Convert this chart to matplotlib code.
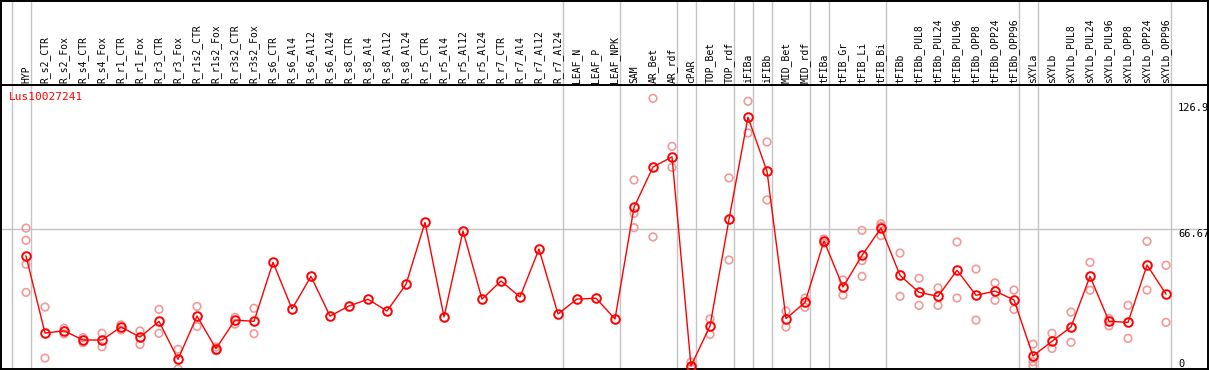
import matplotlib
matplotlib.use("Agg")
import matplotlib.pyplot as plt
from matplotlib.transforms import blended_transform_factory

categories = ["HYP", "R_s2_CTR", "R_s2_Fox", "R_s4_CTR", "R_s4_Fox", "R_r1_CTR", "R_r1_Fox",
              "R_r3_CTR", "R_r3_Fox", "R_r1s2_CTR", "R_r1s2_Fox", "R_r3s2_CTR", "R_r3s2_Fox",
              "R_s6_CTR", "R_s6_Al4", "R_s6_Al12", "R_s6_Al24", "R_s8_CTR", "R_s8_Al4",
              "R_s8_Al12", "R_s8_Al24", "R_r5_CTR", "R_r5_Al4", "R_r5_Al12", "R_r5_Al24",
              "R_r7_CTR", "R_r7_Al4", "R_r7_Al12", "R_r7_Al24", "LEAF_N", "LEAF_P", "LEAF_NPK",
              "SAM", "AR_Bet", "AR_rdf", "cPAR", "TOP_Bet", "TOP_rdf", "iFIBa", "iFIBb",
              "MID_Bet", "MID_rdf", "tFIBa", "tFIB_Gr", "tFIB_Li", "tFIB_Bi", "tFIBb",
              "tFIBb_PUL8", "tFIBb_PUL24", "tFIBb_PUL96", "tFIBb_OPP8", "tFIBb_OPP24",
              "tFIBb_OPP96", "sXYLa", "sXYLb", "sXYLb_PUL8", "sXYLb_PUL24", "sXYLb_PUL96",
              "sXYLb_OPP8", "sXYLb_OPP24", "sXYLb_OPP96"]

means = [53.8, 17.1, 18.2, 13.8, 13.8, 20.0, 15.2, 22.7, 4.6, 25.2, 9.7, 23.3, 22.7,
         50.8, 28.6, 44.1, 25.2, 30.0, 33.2, 27.6, 40.3, 69.8, 24.8, 65.7, 33.3,
         41.9, 34.3, 57.1, 26.2, 33.3, 33.7, 23.8,
         77.0, 96.2, 101.0, 1.4, 20.5, 71.3, 119.9, 94.1, 24.0, 31.7, 61.0, 39.0,
         54.1, 67.1, 44.6, 36.5, 34.6, 47.0, 35.1, 37.1, 32.9,
         6.2, 13.2, 20.0, 44.1, 22.7, 22.2, 49.5, 35.7]

replicates = [[67.1, 61.3, 49.9, 36.5], [29.5, 5.2], [19.4, 16.7], [14.9, 12.5], [17.0, 10.6],
              [21.0, 18.6], [18.1, 11.7], [28.4, 17.0], [9.4, 0.0], [29.8, 20.3], [10.5, 8.7],
              [24.6, 21.4], [28.9, 16.8],
              [], [], [], [], [], [], [], [], [], [], [], [], [], [], [], [], [], [], [],
              [90.0, 74.1, 67.3], [128.9, 62.9], [106.0, 96.0], [3.3, 0.3], [23.8, 16.5],
              [91.0, 51.9], [127.5, 112.4], [108.1, 80.5], [27.6, 20.0], [33.8, 29.4],
              [61.9, 60.0], [42.4, 35.2], [66.0, 51.6, 44.1], [69.2, 68.0, 63.5], [55.2, 34.6],
              [43.2, 30.3], [38.6, 30.3], [60.5, 33.8], [47.6, 23.3], [41.0, 32.7], [37.6, 28.4],
              [11.8, 3.5, 1.6], [17.0, 9.8], [27.1, 12.7], [50.8, 37.5], [24.1, 20.5],
              [30.3, 14.6], [60.8, 37.6], [49.4, 22.2]]

# group separators: a line follows each of these category indices (-1 = before first)
group_ends = [-1, 0, 28, 31, 34, 35, 37, 38, 39, 41, 42, 45, 52, 53, 60]

axis_labels = [(126.9, "126.9"), (66.67, "66.67"), (0, "0")]
gene = "Lus10027241"

W, H = 1209, 370
fig = plt.figure(figsize=(W / 100, H / 100), dpi=100)
ax = fig.add_axes([1 / W, 1 / H, 1207 / W, 284 / H])
hx = fig.add_axes([1 / W, 285 / H, 1207 / W, 84.5 / H], sharex=ax)

xlo, xhi = (1 - 26) / 19, (1208 - 26) / 19
ax.set_xlim(xlo, xhi)
ax.set_ylim(0, 284 / 2.1)
hx.set_ylim(0, 1)

mono = "DejaVu Sans Mono"
grid_c = "#c4c4c4"
for a in (ax, hx):
    a.set_xticks([])
    a.set_yticks([])
    for s in a.spines.values():
        s.set_color("black")
        s.set_linewidth(1.4)
    for g in group_ends:
        a.axvline(g + 0.25, color=grid_c, lw=1.0, zorder=0)

ax.axhline(66.67, color=grid_c, lw=1.0, zorder=0)

xs = list(range(len(categories)))
px, py = [], []
for i, reps in enumerate(replicates):
    for v in reps:
        px.append(i)
        py.append(v)
ax.scatter(px, py, s=30, facecolors="none", edgecolors="#f09a9a", linewidths=1.2, zorder=2)
ax.plot(xs, means, color="red", lw=1.0, marker="o", ms=6.2, mfc="none", mec="red",
        mew=1.4, zorder=3, clip_on=False)

for i, c in enumerate(categories):
    hx.text(i, 2 / 84.5, c, rotation=90, ha="center", va="bottom", fontsize=7,
            family=mono, transform=blended_transform_factory(hx.transData, hx.transAxes))

tr = blended_transform_factory(ax.transAxes, ax.transData)
for v, lab in axis_labels:
    ax.text((1178 - 1) / 1207, v, lab, ha="left", va="bottom" if v == 0 else "top",
            fontsize=7.5, family=mono, transform=tr)

ax.text((9 - 1) / 1207, (369 - 97) / 284, gene, color="red", fontsize=8, family=mono,
        ha="left", va="center", transform=ax.transAxes)

fig.savefig("out.png", dpi=100)
